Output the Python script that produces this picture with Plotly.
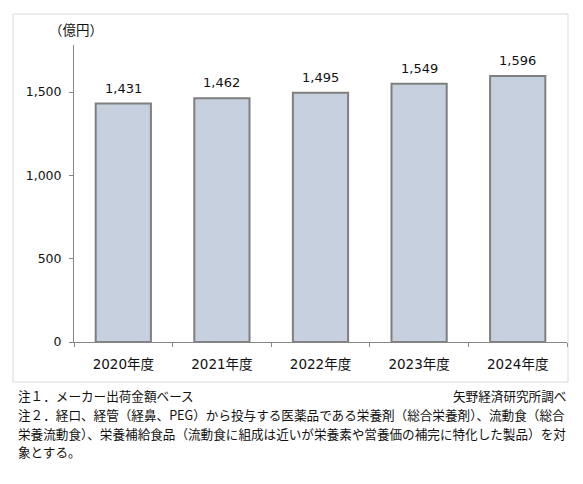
import plotly.graph_objects as go

years = ["2020年度", "2021年度", "2022年度", "2023年度", "2024年度"]
values = [1431, 1462, 1495, 1549, 1596]
value_labels = ["1,431", "1,462", "1,495", "1,549", "1,596"]
y_ticks = [0, 500, 1000, 1500]
y_tick_labels = ["0", "500", "1,000", "1,500"]

unit_label = "（億円）"
source_note = "矢野経済研究所調べ"
notes = [
    "注１．メーカー出荷金額ベース",
    "注２．経口、経管（経鼻、PEG）から投与する医薬品である栄養剤（総合栄養剤）、流動食（総合",
    "栄養流動食）、栄養補給食品（流動食に組成は近いが栄養素や営養価の補完に特化した製品）を対",
    "象とする。",
]

FONT = "DejaVu Sans, Noto Sans CJK JP, sans-serif"
JP_FONT = "Noto Sans CJK JP, sans-serif"
TEXT = "#111111"

# page body has an 8px margin, so the figure is drawn 8px in from the corner
OFF = 8
W, H = 575, 476
L, T = 74 - OFF, 45 - OFF
R = W - (567 - OFF)
B = H - (342 - OFF)
plot_w = W - L - R
plot_h = H - T - B


def px_x(px):
    return (px - OFF - L) / plot_w


def px_y(py):
    return (H - B - (py - OFF)) / plot_h


fig = go.Figure()
fig.add_trace(
    go.Bar(
        x=years,
        y=values,
        marker={"color": "#c6d0de", "line": {"color": "#7f7f7f", "width": 2}},
        hoverinfo="skip",
    )
)

for year, value, label in zip(years, values, value_labels):
    fig.add_annotation(
        x=year, y=value, text=label, showarrow=False,
        yanchor="bottom", yshift=6, font={"size": 13, "color": TEXT, "family": FONT},
    )

fig.add_shape(
    type="rect", xref="paper", yref="paper",
    x0=px_x(13), x1=px_x(568), y0=px_y(382), y1=px_y(14),
    line={"color": "#d9d9d9", "width": 1}, layer="below",
)

fig.add_annotation(
    xref="paper", yref="paper", x=px_x(76), y=px_y(29), text=unit_label,
    showarrow=False, xanchor="center", yanchor="middle",
    font={"size": 13.5, "color": TEXT, "family": JP_FONT},
)

note_y = [395, 414, 433, 451]
for text, py in zip(notes, note_y):
    fig.add_annotation(
        xref="paper", yref="paper", x=px_x(16), y=px_y(py), text=text,
        showarrow=False, xanchor="left", yanchor="middle",
        font={"size": 12.6, "color": TEXT, "family": JP_FONT},
    )
fig.add_annotation(
    xref="paper", yref="paper", x=px_x(568), y=px_y(395), text=source_note,
    showarrow=False, xanchor="right", yanchor="middle",
    font={"size": 12.6, "color": TEXT, "family": JP_FONT},
)

fig.update_layout(
    width=W, height=H,
    margin={"l": L, "r": R, "t": T, "b": B},
    paper_bgcolor="white", plot_bgcolor="white",
    bargap=0.44, showlegend=False,
)
fig.update_xaxes(
    type="category", showline=True, linecolor="#868686", linewidth=1,
    ticks="outside", tickson="boundaries", ticklen=4, tickcolor="#868686",
    ticklabelstandoff=10,
    tickfont={"size": 13.5, "color": TEXT, "family": FONT},
    showgrid=False,
)
fig.update_yaxes(
    range=[0, 1782], showline=True, linecolor="#868686", linewidth=1,
    ticks="outside", ticklen=4, tickcolor="#868686",
    tickvals=y_ticks, ticktext=y_tick_labels, ticklabelstandoff=5,
    tickfont={"size": 12.5, "color": TEXT, "family": FONT},
    showgrid=False, zeroline=False,
)

fig.write_html("out.html")
